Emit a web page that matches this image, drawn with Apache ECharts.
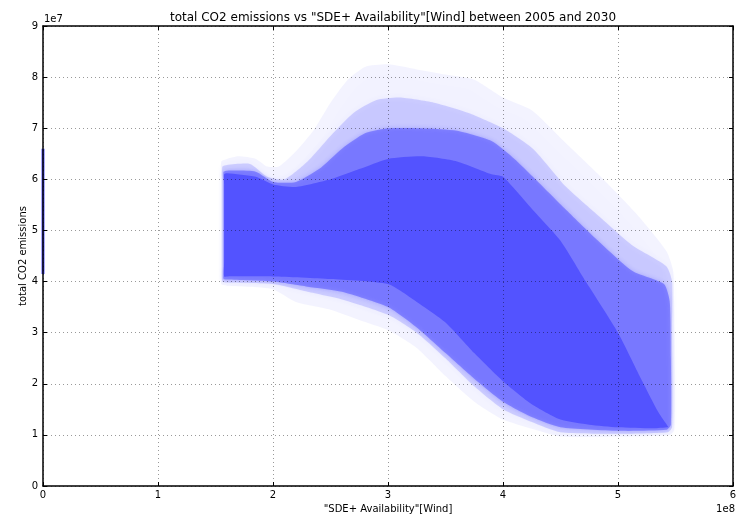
<!DOCTYPE html>
<html>
<head>
<meta charset="utf-8">
<script src="https://cdn.jsdelivr.net/npm/echarts@6/dist/echarts.min.js"></script>
<style>
html,body{margin:0;padding:0;background:#fff;}
#c{width:741px;height:519px;}
</style>
</head>
<body>
<div id="c"></div>
<script>
// Units: x in 1e8, y in 1e7 (as shown by the axis offset labels)
const titleText = 'total CO2 emissions vs "SDE+ Availability"[Wind] between 2005 and 2030';
const xName = '"SDE+ Availability"[Wind]';
const yName = 'total CO2 emissions';
const xTicks = [0, 1, 2, 3, 4, 5, 6];
const yTicks = [0, 1, 2, 3, 4, 5, 6, 7, 8, 9];

// Envelope of the ensemble of runs (outer faint -> dense core)
const faintUpper = [[1.55,6.0],[1.55,6.35],[1.6,6.4],[1.7,6.45],[1.85,6.4],[1.95,6.25],[2.05,6.25],[2.2,6.55],[2.35,6.95],[2.5,7.5],[2.65,7.95],[2.8,8.2],[3.0,8.25],[3.25,8.15],[3.5,8.05],[3.75,7.95],[4.0,7.6],[4.25,7.35],[4.55,6.7],[4.85,6.05],[5.15,5.35],[5.42,4.6],[5.48,4.2],[5.49,3.0]];
const faintLower = [[1.55,4.3],[1.55,3.95],[1.6,3.92],[1.8,3.9],[2.0,3.85],[2.2,3.6],[2.5,3.45],[2.75,3.25],[3.0,3.05],[3.25,2.7],[3.5,2.15],[3.75,1.65],[4.0,1.3],[4.25,1.12],[4.5,0.97],[5.0,0.97],[5.45,1.0],[5.49,1.1]];

const lightUpper = [[1.56,6.0],[1.56,6.25],[1.6,6.28],[1.8,6.3],[1.95,6.05],[2.1,6.0],[2.3,6.35],[2.5,6.85],[2.7,7.3],[2.9,7.55],[3.1,7.6],[3.4,7.5],[3.7,7.3],[4.0,7.0],[4.26,6.6],[4.55,5.85],[4.84,5.27],[5.13,4.7],[5.42,4.3],[5.47,4.0],[5.47,3.0]];
const lightLower = [[1.56,4.3],[1.56,4.0],[1.6,3.98],[2.0,3.95],[2.3,3.8],[2.6,3.65],[3.0,3.35],[3.25,3.0],[3.5,2.5],[3.75,1.95],[4.0,1.5],[4.25,1.25],[4.5,1.05],[5.0,1.02],[5.43,1.05],[5.47,1.15]];

const mediumUpper = [[1.57,6.0],[1.57,6.15],[1.6,6.17],[1.85,6.15],[2.0,5.95],[2.2,5.95],[2.4,6.2],[2.6,6.6],[2.8,6.9],[3.0,7.0],[3.3,7.0],[3.6,6.95],[3.9,6.75],[4.1,6.4],[4.26,6.05],[4.55,5.4],[4.84,4.77],[5.13,4.2],[5.4,3.95],[5.45,3.6],[5.46,2.5]];
const mediumLower = [[1.57,4.3],[1.57,4.05],[1.6,4.04],[2.0,4.0],[2.3,3.9],[2.6,3.8],[3.0,3.5],[3.25,3.1],[3.5,2.6],[3.75,2.1],[4.0,1.65],[4.25,1.35],[4.5,1.15],[5.0,1.08],[5.42,1.1],[5.46,1.2]];

const coreUpper = [[1.575,5.9],[1.575,6.1],[1.6,6.12],[1.85,6.05],[2.0,5.9],[2.2,5.85],[2.5,6.0],[2.75,6.2],[3.0,6.4],[3.3,6.45],[3.6,6.35],[3.9,6.1],[4.0,6.05],[4.26,5.4],[4.5,4.8],[4.72,4.0],[5.0,3.0],[5.2,2.1],[5.35,1.45],[5.44,1.15]];
const coreLower = [[1.575,4.4],[1.575,4.1],[1.6,4.1],[2.0,4.1],[2.5,4.05],[3.0,3.95],[3.25,3.6],[3.5,3.2],[3.75,2.6],[4.0,2.05],[4.25,1.6],[4.5,1.3],[4.75,1.2],[5.0,1.15],[5.3,1.13],[5.44,1.15]];

// runs plotted at x = 0 (vertical segment on the left spine)
const zeroLine = [[0,4.15],[0,6.6]];

const layers = [
  {upper: faintUpper, lower: faintLower, color: 'rgba(83,83,255,0.07)', blur: 8},
  {upper: lightUpper, lower: lightLower, color: 'rgba(83,83,255,0.22)', blur: 6},
  {upper: mediumUpper, lower: mediumLower, color: 'rgba(83,83,255,0.55)', blur: 4},
  {upper: coreUpper, lower: coreLower, color: 'rgb(83,83,255)', blur: 0}
];

const chart = echarts.init(document.getElementById('c'), null, {renderer: 'canvas'});
const font = 'DejaVu Sans';
const gridLine = {show: true, lineStyle: {color: 'rgba(0,0,0,0.4)', width: 1, type: [1, 3]}};
const axisLine = {show: true, onZero: false, lineStyle: {color: '#000', width: 1.5}};
const tick = {show: true, inside: true, length: 4, lineStyle: {color: '#000', width: 1}};

const series = layers.map(function (L) {
  return {
    type: 'custom',
    coordinateSystem: 'cartesian2d',
    silent: true,
    z: 2,
    data: [L.upper[0]],
    renderItem: function (params, api) {
      const pts = L.upper.concat(L.lower.slice().reverse()).map(function (p) { return api.coord(p); });
      return {type: 'polygon', shape: {points: pts, smooth: 0.2},
        style: {fill: L.color, shadowBlur: L.blur, shadowColor: L.color}};
    }
  };
});
series.push({
  type: 'line', data: zeroLine, symbol: 'none', z: 1,
  lineStyle: {color: 'rgb(90,90,255)', width: 3}
});

chart.setOption({
  animation: false,
  backgroundColor: '#fff',
  textStyle: {fontFamily: font},
  title: {
    text: titleText, left: 388, top: 7, textAlign: 'center',
    textStyle: {fontFamily: font, fontSize: 12, fontWeight: 'normal', color: '#000'}
  },
  grid: {left: 43, right: 8, top: 26, bottom: 32, containLabel: false},
  xAxis: [{
    type: 'value', min: 0, max: 6, interval: 1, z: 10, position: 'bottom',
    name: xName, nameLocation: 'middle', nameGap: 18, nameMoveOverlap: false,
    nameTextStyle: {fontFamily: font, fontSize: 10, color: '#000'},
    axisLine: axisLine, axisTick: tick, splitLine: gridLine,
    axisLabel: {fontFamily: font, fontSize: 10, color: '#000', margin: 4,
      formatter: function (v) { return xTicks.indexOf(v) >= 0 ? String(v) : ''; }}
  }, {
    type: 'value', min: 0, max: 6, interval: 1, z: 10, position: 'top',
    axisLine: axisLine, axisTick: tick, splitLine: {show: false}, axisLabel: {show: false}
  }],
  yAxis: [{
    type: 'value', min: 0, max: 9, interval: 1, z: 10, position: 'left',
    name: yName, nameLocation: 'middle', nameGap: 15, nameRotate: 90, nameMoveOverlap: false,
    nameTextStyle: {fontFamily: font, fontSize: 10, color: '#000'},
    axisLine: axisLine, axisTick: tick, splitLine: gridLine,
    axisLabel: {fontFamily: font, fontSize: 10, color: '#000', margin: 5,
      formatter: function (v) { return yTicks.indexOf(v) >= 0 ? String(v) : ''; }}
  }, {
    type: 'value', min: 0, max: 9, interval: 1, z: 10, position: 'right',
    axisLine: axisLine, axisTick: tick, splitLine: {show: false}, axisLabel: {show: false}
  }],
  graphic: [
    {type: 'text', left: 44, top: 14, style: {text: '1e7', font: '10px "DejaVu Sans"', fill: '#000'}},
    {type: 'text', right: 6, top: 504, style: {text: '1e8', font: '10px "DejaVu Sans"', fill: '#000'}}
  ],
  series: series
});
</script>
</body>
</html>
